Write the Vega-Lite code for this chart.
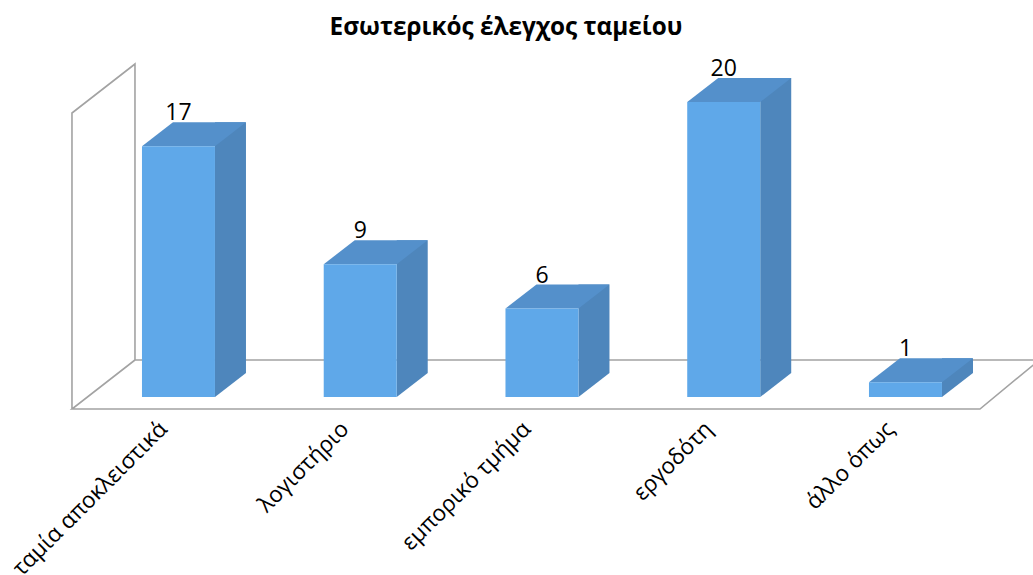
{
  "$schema": "https://vega.github.io/schema/vega-lite/v6.json",
  "autosize": "none",
  "padding": {"left": 87.6, "top": 102, "right": 36.65, "bottom": 178},
  "width": 908.75,
  "height": 295,
  "background": "white",
  "title": {
    "text": "Εσωτερικός έλεγχος ταμείου",
    "font": "Open Sans",
    "fontSize": 24.3,
    "fontWeight": "bold",
    "color": "#000000",
    "anchor": "middle",
    "dx": -36,
    "offset": 18
  },
  "data": {
    "values": [
      {"category": "ταμία αποκλειστικά", "value": 17},
      {"category": "λογιστήριο", "value": 9},
      {"category": "εμπορικό τμήμα", "value": 6},
      {"category": "εργοδότη", "value": 20},
      {"category": "άλλο όπως", "value": 1}
    ]
  },
  "encoding": {
    "x": {
      "field": "category",
      "type": "nominal",
      "sort": null,
      "title": null,
      "scale": {"paddingInner": 0, "paddingOuter": 0},
      "axis": {
        "domain": false,
        "ticks": false,
        "grid": false,
        "labelAngle": -45,
        "labelAlign": "right",
        "labelBaseline": "middle",
        "labelFont": "Open Sans",
        "labelFontSize": 22.5,
        "labelColor": "#000000",
        "labelPadding": 28,
        "labelOffset": -15,
        "labelLimit": 500,
        "labelOverlap": false,
        "labelBound": false,
        "labelFlush": false
      }
    },
    "y": {
      "field": "value",
      "type": "quantitative",
      "title": null,
      "scale": {"domain": [0, 20], "nice": false, "zero": true},
      "axis": null
    }
  },
  "layer": [
    {
      "transform": [{"filter": "datum.value === 17"}],
      "mark": {
        "type": "point",
        "shape": "M-106.5,12L-106.5,-284L-43.5,-333L-43.5,-37L-106.5,12L801.5,12L862,-38M-43.5,-37L860,-37",
        "size": 4,
        "filled": false,
        "stroke": "#a3a3a3",
        "strokeWidth": 1.6,
        "fill": null,
        "opacity": 1
      },
      "encoding": {"y": {"datum": 0, "type": "quantitative", "scale": {"domain": [0, 20], "nice": false, "zero": true}}}
    },
    {
      "mark": {"type": "bar", "width": 31, "xOffset": 52, "yOffset": -24, "color": "#4e86bc"}
    },
    {
      "mark": {
        "type": "point",
        "shape": "M36.5,0L36.5,-24L67.5,-24Z",
        "size": 4,
        "filled": true,
        "color": "#4e86bc",
        "strokeWidth": 0,
        "opacity": 1
      },
      "encoding": {"y": {"datum": 0, "type": "quantitative", "scale": {"domain": [0, 20], "nice": false, "zero": true}}}
    },
    {
      "mark": {
        "type": "point",
        "shape": "M-36.5,0L36.5,0L67.5,-24L-5.5,-24Z",
        "size": 4,
        "filled": true,
        "color": "#5490cb",
        "strokeWidth": 0,
        "opacity": 1
      }
    },
    {
      "mark": {"type": "bar", "width": 73, "color": "#5fa8e9"}
    },
    {
      "mark": {
        "type": "text",
        "dy": -33,
        "font": "Open Sans",
        "fontSize": 23,
        "color": "#000000",
        "baseline": "middle",
        "align": "center"
      },
      "encoding": {"text": {"field": "value", "type": "quantitative"}}
    }
  ],
  "config": {"view": {"stroke": null}}
}
